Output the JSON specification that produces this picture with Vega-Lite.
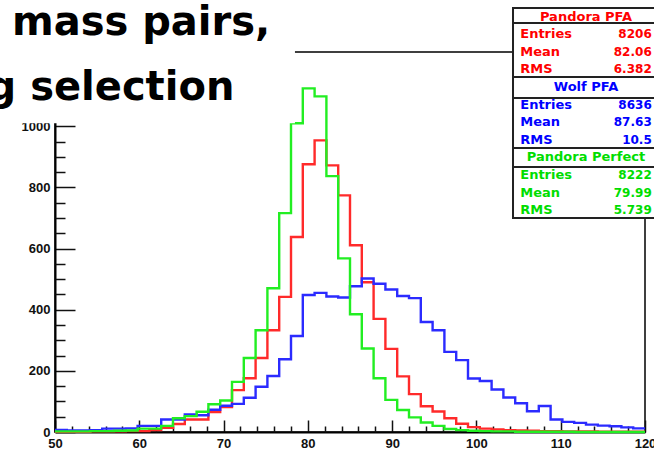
{
  "$schema": "https://vega.github.io/schema/vega-lite/v6.json",
  "width": 590,
  "height": 380,
  "autosize": "none",
  "padding": {"left": 55, "top": 52, "right": 9, "bottom": 21},
  "background": "#ffffff",
  "config": {"view": {"stroke": "#000000", "strokeWidth": 1.5}},
  "datasets": {
    "hist": [
      {"x":50,"r":1,"b":7,"g":2},
      {"x":51.4,"r":1,"b":5,"g":2},
      {"x":52.8,"r":1,"b":5,"g":2},
      {"x":54.2,"r":2,"b":6,"g":3},
      {"x":55.6,"r":2,"b":11,"g":3},
      {"x":57,"r":2,"b":11,"g":4},
      {"x":58.4,"r":3,"b":12,"g":5},
      {"x":59.8,"r":3,"b":20,"g":11},
      {"x":61.2,"r":6,"b":20,"g":11},
      {"x":62.6,"r":14,"b":41,"g":20},
      {"x":64,"r":26,"b":41,"g":45},
      {"x":65.4,"r":41,"b":57,"g":52},
      {"x":66.8,"r":41,"b":55,"g":66},
      {"x":68.2,"r":65,"b":73,"g":91},
      {"x":69.6,"r":82,"b":86,"g":103},
      {"x":71,"r":137,"b":92,"g":164},
      {"x":72.4,"r":176,"b":112,"g":242},
      {"x":73.8,"r":242,"b":148,"g":333},
      {"x":75.2,"r":333,"b":183,"g":470},
      {"x":76.6,"r":442,"b":238,"g":716},
      {"x":78,"r":638,"b":314,"g":1010},
      {"x":79.4,"r":876,"b":448,"g":1124},
      {"x":80.8,"r":954,"b":455,"g":1098},
      {"x":82.2,"r":872,"b":443,"g":837},
      {"x":83.6,"r":774,"b":440,"g":568},
      {"x":85,"r":611,"b":477,"g":385},
      {"x":86.4,"r":490,"b":502,"g":273},
      {"x":87.8,"r":370,"b":485,"g":176},
      {"x":89.2,"r":272,"b":466,"g":105},
      {"x":90.6,"r":182,"b":445,"g":72},
      {"x":92,"r":124,"b":438,"g":48},
      {"x":93.4,"r":84,"b":360,"g":31},
      {"x":94.8,"r":67,"b":333,"g":20},
      {"x":96.2,"r":45,"b":262,"g":10},
      {"x":97.6,"r":27,"b":235,"g":6},
      {"x":99,"r":16,"b":175,"g":4},
      {"x":100.4,"r":11,"b":167,"g":3},
      {"x":101.8,"r":8,"b":139,"g":2},
      {"x":103.2,"r":6,"b":113,"g":2},
      {"x":104.6,"r":5,"b":94,"g":1},
      {"x":106,"r":4,"b":68,"g":1},
      {"x":107.4,"r":3,"b":85,"g":1},
      {"x":108.8,"r":3,"b":41,"g":1},
      {"x":110.2,"r":2,"b":33,"g":1},
      {"x":111.6,"r":2,"b":30,"g":0},
      {"x":113,"r":2,"b":24,"g":0},
      {"x":114.4,"r":1,"b":21,"g":0},
      {"x":115.8,"r":1,"b":19,"g":0},
      {"x":117.2,"r":1,"b":15,"g":0},
      {"x":118.6,"r":1,"b":12,"g":0},
      {"x":120,"r":1,"b":12,"g":0}
    ],
    "stats": [
      {"s":"Pandora PFA","k":"h","t":"Pandora PFA","v":"","i":0},
      {"s":"Pandora PFA","k":"r","t":"Entries","v":"8206","i":1},
      {"s":"Pandora PFA","k":"r","t":"Mean","v":"82.06","i":2},
      {"s":"Pandora PFA","k":"r","t":"RMS","v":"6.382","i":3},
      {"s":"Wolf PFA","k":"h","t":"Wolf PFA","v":"","i":4},
      {"s":"Wolf PFA","k":"r","t":"Entries","v":"8636","i":5},
      {"s":"Wolf PFA","k":"r","t":"Mean","v":"87.63","i":6},
      {"s":"Wolf PFA","k":"r","t":"RMS","v":"10.5","i":7},
      {"s":"Pandora Perfect","k":"h","t":"Pandora Perfect","v":"","i":8},
      {"s":"Pandora Perfect","k":"r","t":"Entries","v":"8222","i":9},
      {"s":"Pandora Perfect","k":"r","t":"Mean","v":"79.99","i":10},
      {"s":"Pandora Perfect","k":"r","t":"RMS","v":"5.739","i":11}
    ]
  },
  "layer": [
    {
      "data": {"name": "hist"},
      "layer": [
        {
          "mark": {"type": "line", "interpolate": "step-after", "stroke": "#ff2a2a", "strokeWidth": 2.4},
          "encoding": {
            "x": {
              "field": "x", "type": "quantitative", "title": null,
              "scale": {"domain": [50, 120], "nice": false, "zero": false},
              "axis": {
                "orient": "bottom",
                "values": [50,60,70,80,90,100,110,120],
                "tickSize": -12,
                "labelPadding": 17,
                "labelFont": "Liberation Sans", "labelFontSize": 13, "labelFontWeight": "bold", "labelColor": "#111111",
                "tickColor": "#111111", "tickWidth": 1.5, "domainColor": "#000000", "domainWidth": 2,
                "grid": false, "labelFlush": false, "labelOverlap": false, "format": "d"
              }
            },
            "y": {
              "field": "r", "type": "quantitative", "title": null,
              "scale": {"domain": [0, 1243], "nice": false, "zero": true},
              "axis": {
                "orient": "left",
                "values": [0,200,400,600,800,1000],
                "tickSize": -20,
                "labelPadding": 25,
                "labelFont": "Liberation Sans", "labelFontSize": 13, "labelFontWeight": "bold", "labelColor": "#111111",
                "tickColor": "#111111", "tickWidth": 1.5, "domainColor": "#000000", "domainWidth": 2,
                "grid": false, "labelOverlap": false, "labelFlush": false, "format": "d"
              }
            }
          }
        },
        {
          "mark": {"type": "line", "interpolate": "step-after", "stroke": "#2b2bff", "strokeWidth": 2.4},
          "encoding": {
            "x": {
              "field": "x", "type": "quantitative", "title": null,
              "axis": {
                "orient": "bottom",
                "values": [52,54,56,58,62,64,66,68,72,74,76,78,82,84,86,88,92,94,96,98,102,104,106,108,112,114,116,118],
                "tickSize": -6, "labels": false, "domain": false, "grid": false,
                "tickColor": "#111111", "tickWidth": 1.5
              }
            },
            "y": {
              "field": "b", "type": "quantitative", "title": null,
              "axis": {
                "orient": "left",
                "values": [50,100,150,250,300,350,450,500,550,650,700,750,850,900,950,1050,1100,1150,1200],
                "tickSize": -10, "labels": false, "domain": false, "grid": false,
                "tickColor": "#111111", "tickWidth": 1.5
              }
            }
          }
        },
        {
          "mark": {"type": "line", "interpolate": "step-after", "stroke": "#22ee22", "strokeWidth": 2.4},
          "encoding": {
            "x": {"field": "x", "type": "quantitative", "axis": null},
            "y": {"field": "g", "type": "quantitative", "axis": null}
          }
        },
        {
          "data": {"values": [{}]},
          "mark": {"type": "rect", "fill": "#ffffff", "strokeWidth": 0},
          "encoding": {
            "x": {"datum": 40, "type": "quantitative", "axis": null},
            "x2": {"datum": 78.47},
            "y": {"datum": 1010, "type": "quantitative", "axis": null},
            "y2": {"datum": 1413}
          }
        },
        {
          "data": {"values": [{}]},
          "mark": {"type": "text", "align": "left", "baseline": "alphabetic", "font": "DejaVu Sans", "fontSize": 40, "fontWeight": "bold", "color": "#000000"},
          "encoding": {
            "x": {"datum": 44.9, "type": "quantitative", "axis": null},
            "y": {"datum": 1298, "type": "quantitative", "axis": null},
            "text": {"value": "mass pairs,"}
          }
        },
        {
          "data": {"values": [{}]},
          "mark": {"type": "text", "align": "left", "baseline": "alphabetic", "font": "DejaVu Sans", "fontSize": 40, "fontWeight": "bold", "color": "#000000"},
          "encoding": {
            "x": {"datum": 42.0, "type": "quantitative", "axis": null},
            "y": {"datum": 1086, "type": "quantitative", "axis": null},
            "text": {"value": "g selection"}
          }
        }
      ],
      "resolve": {"axis": {"x": "independent", "y": "independent"}}
    },
    {
      "layer": [
        {
          "data": {"values": [{}]},
          "mark": {"type": "rect", "fill": "#ffffff", "stroke": "#222222", "strokeWidth": 2},
          "encoding": {
            "x": {"datum": 104.34, "type": "quantitative", "axis": null},
            "x2": {"datum": 123},
            "y": {"datum": -0.494, "type": "quantitative", "axis": null, "scale": {"domain": [2.006, 23.596], "nice": false, "zero": false, "reverse": true}},
            "y2": {"datum": 11.438}
          }
        },
        {"data": {"values": [{}]}, "mark": {"type": "rule", "stroke": "#222222", "strokeWidth": 2},
         "encoding": {"x": {"datum": 104.34, "type": "quantitative", "axis": null}, "x2": {"datum": 123}, "y": {"datum": 0.358, "type": "quantitative", "axis": null}}},
        {"data": {"values": [{}]}, "mark": {"type": "rule", "stroke": "#222222", "strokeWidth": 2},
         "encoding": {"x": {"datum": 104.34, "type": "quantitative", "axis": null}, "x2": {"datum": 123}, "y": {"datum": 3.426, "type": "quantitative", "axis": null}}},
        {"data": {"values": [{}]}, "mark": {"type": "rule", "stroke": "#222222", "strokeWidth": 2},
         "encoding": {"x": {"datum": 104.34, "type": "quantitative", "axis": null}, "x2": {"datum": 123}, "y": {"datum": 4.62, "type": "quantitative", "axis": null}}},
        {"data": {"values": [{}]}, "mark": {"type": "rule", "stroke": "#222222", "strokeWidth": 2},
         "encoding": {"x": {"datum": 104.34, "type": "quantitative", "axis": null}, "x2": {"datum": 123}, "y": {"datum": 7.46, "type": "quantitative", "axis": null}}},
        {"data": {"values": [{}]}, "mark": {"type": "rule", "stroke": "#222222", "strokeWidth": 2},
         "encoding": {"x": {"datum": 104.34, "type": "quantitative", "axis": null}, "x2": {"datum": 123}, "y": {"datum": 8.54, "type": "quantitative", "axis": null}}},
        {
          "data": {"name": "stats"},
          "transform": [{"filter": "datum.k === 'h'"}],
          "mark": {"type": "text", "align": "center", "baseline": "middle", "font": "DejaVu Sans", "fontSize": 13, "fontWeight": "bold"},
          "encoding": {
            "x": {"datum": 113.0, "type": "quantitative", "axis": null},
            "y": {"field": "i", "type": "quantitative", "axis": null, "scale": {"domain": [2.006, 23.596], "nice": false, "zero": false, "reverse": true}},
            "text": {"field": "t"},
            "color": {"field": "s", "type": "nominal", "legend": null, "scale": {"domain": ["Pandora PFA", "Wolf PFA", "Pandora Perfect"], "range": ["#ff0000", "#0000ff", "#00dd00"]}}
          }
        },
        {
          "data": {"name": "stats"},
          "transform": [{"filter": "datum.k === 'r'"}],
          "mark": {"type": "text", "align": "left", "baseline": "middle", "font": "DejaVu Sans", "fontSize": 13, "fontWeight": "bold"},
          "encoding": {
            "x": {"datum": 105.2, "type": "quantitative", "axis": null},
            "y": {"field": "i", "type": "quantitative", "axis": null},
            "text": {"field": "t"},
            "color": {"field": "s", "type": "nominal", "legend": null}
          }
        },
        {
          "data": {"name": "stats"},
          "transform": [{"filter": "datum.k === 'r'"}],
          "mark": {"type": "text", "align": "right", "baseline": "middle", "font": "DejaVu Sans", "fontSize": 12, "fontWeight": "bold"},
          "encoding": {
            "x": {"datum": 120.8, "type": "quantitative", "axis": null},
            "y": {"field": "i", "type": "quantitative", "axis": null},
            "text": {"field": "v"},
            "color": {"field": "s", "type": "nominal", "legend": null}
          }
        }
      ]
    }
  ],
  "resolve": {"scale": {"y": "independent"}, "axis": {"x": "independent", "y": "independent"}}
}
